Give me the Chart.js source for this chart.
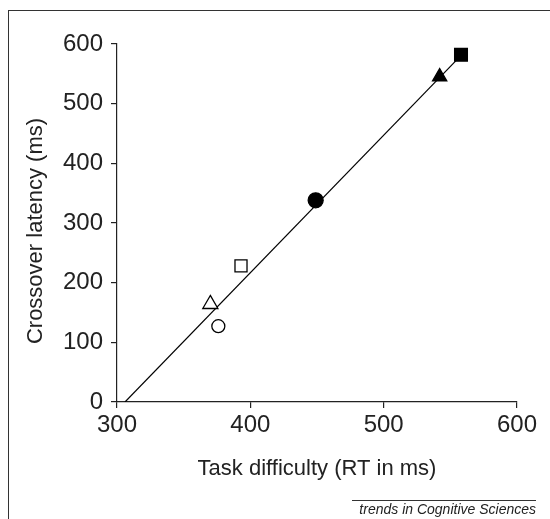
<!DOCTYPE html>
<html>
<head>
<meta charset="utf-8">
<script src="https://cdn.jsdelivr.net/npm/chart.js@4/dist/chart.umd.min.js"></script>
<style>
  body { margin: 0; background: #fff; font-family: "Liberation Sans", Arial, sans-serif; }
  #wrap { position: relative; width: 550px; height: 519px; overflow: hidden; }
  #frame { position: absolute; left: 8px; top: 10px; width: 700px; height: 700px;
           border-left: 1.5px solid #333; border-top: 1.5px solid #333; }
  #chart { position: absolute; left: 0; top: 0; }
  #source { position: absolute; left: 352px; top: 500px; width: 184px; text-align: right;
            border-top: 1px solid #333; font-style: italic; font-size: 14px; line-height: 17px;
            color: #222; white-space: nowrap; }
</style>
</head>
<body>
<div id="wrap">
  <div id="frame"></div>
  <canvas id="chart" width="550" height="519"></canvas>
  <div id="source">trends in Cognitive Sciences</div>
</div>
<script>
// task difficulty (RT, ms) vs crossover latency (ms)
const taskRT = [376, 370, 393, 449, 542, 558];
const crossover = [127, 164, 228, 338, 545, 582];
const markerShapes = ['circle', 'triangle', 'rect', 'circle', 'triangle', 'rect'];
const markerFilled = [false, false, false, true, true, true];
const markerSizes = [6.5, 8.7, 8.5, 7.5, 8.2, 9];

// regression line end points
const fitX = [306, 559];
const fitY = [0, 583];

const xTicks = [300, 400, 500, 600];
const yTicks = [0, 100, 200, 300, 400, 500, 600];
const xTitle = 'Task difficulty (RT in ms)';
const yTitle = 'Crossover latency (ms)';

const points = taskRT.map((x, i) => ({ x: x, y: crossover[i] }));
const fitLine = fitX.map((x, i) => ({ x: x, y: fitY[i] }));

const axisTitles = {
    id: 'axisTitles',
    afterDraw(chart) {
        const ctx = chart.ctx;
        const area = chart.chartArea;
        ctx.save();
        ctx.fillStyle = '#222';
        ctx.font = '22px "Liberation Sans", Arial, sans-serif';
        ctx.textAlign = 'center';
        ctx.textBaseline = 'alphabetic';
        ctx.fillText(xTitle, (area.left + area.right) / 2, 475);
        ctx.translate(42, 231);
        ctx.rotate(-Math.PI / 2);
        ctx.fillText(yTitle, 0, 0);
        ctx.restore();
    }
};

const tickFont = { family: '"Liberation Sans", Arial, sans-serif', size: 24 };

new Chart(document.getElementById('chart'), {
    type: 'scatter',
    data: {
        datasets: [{
            data: fitLine,
            showLine: true,
            borderColor: '#000',
            borderWidth: 1.2,
            pointRadius: 0,
            order: 2
        }, {
            data: points,
            showLine: false,
            pointStyle: markerShapes,
            pointRadius: markerSizes,
            pointBackgroundColor: markerFilled.map(f => f ? '#000' : '#fff'),
            pointBorderColor: '#000',
            pointBorderWidth: 1.3,
            order: 1
        }]
    },
    options: {
        responsive: false,
        animation: false,
        layout: { padding: { top: 44, right: 33, left: 0, bottom: 0 } },
        plugins: { legend: { display: false }, tooltip: { enabled: false } },
        scales: {
            x: {
                min: 300, max: 600,
                afterFit(scale) { scale.height = 117; },
                afterBuildTicks(scale) { scale.ticks = xTicks.map(v => ({ value: v })); },
                ticks: { color: '#222', font: tickFont, padding: 3, maxRotation: 0 },
                grid: { drawOnChartArea: false, drawTicks: true, tickLength: 6, color: '#222', lineWidth: 1.2 },
                border: { color: '#222', width: 1.2 }
            },
            y: {
                min: 0, max: 600,
                afterFit(scale) { scale.width = 117; },
                afterBuildTicks(scale) { scale.ticks = yTicks.map(v => ({ value: v })); },
                ticks: { color: '#222', font: tickFont, padding: 8 },
                grid: { drawOnChartArea: false, drawTicks: true, tickLength: 6, color: '#222', lineWidth: 1.2 },
                border: { color: '#222', width: 1.2 }
            }
        }
    },
    plugins: [axisTitles]
});
</script>
</body>
</html>
